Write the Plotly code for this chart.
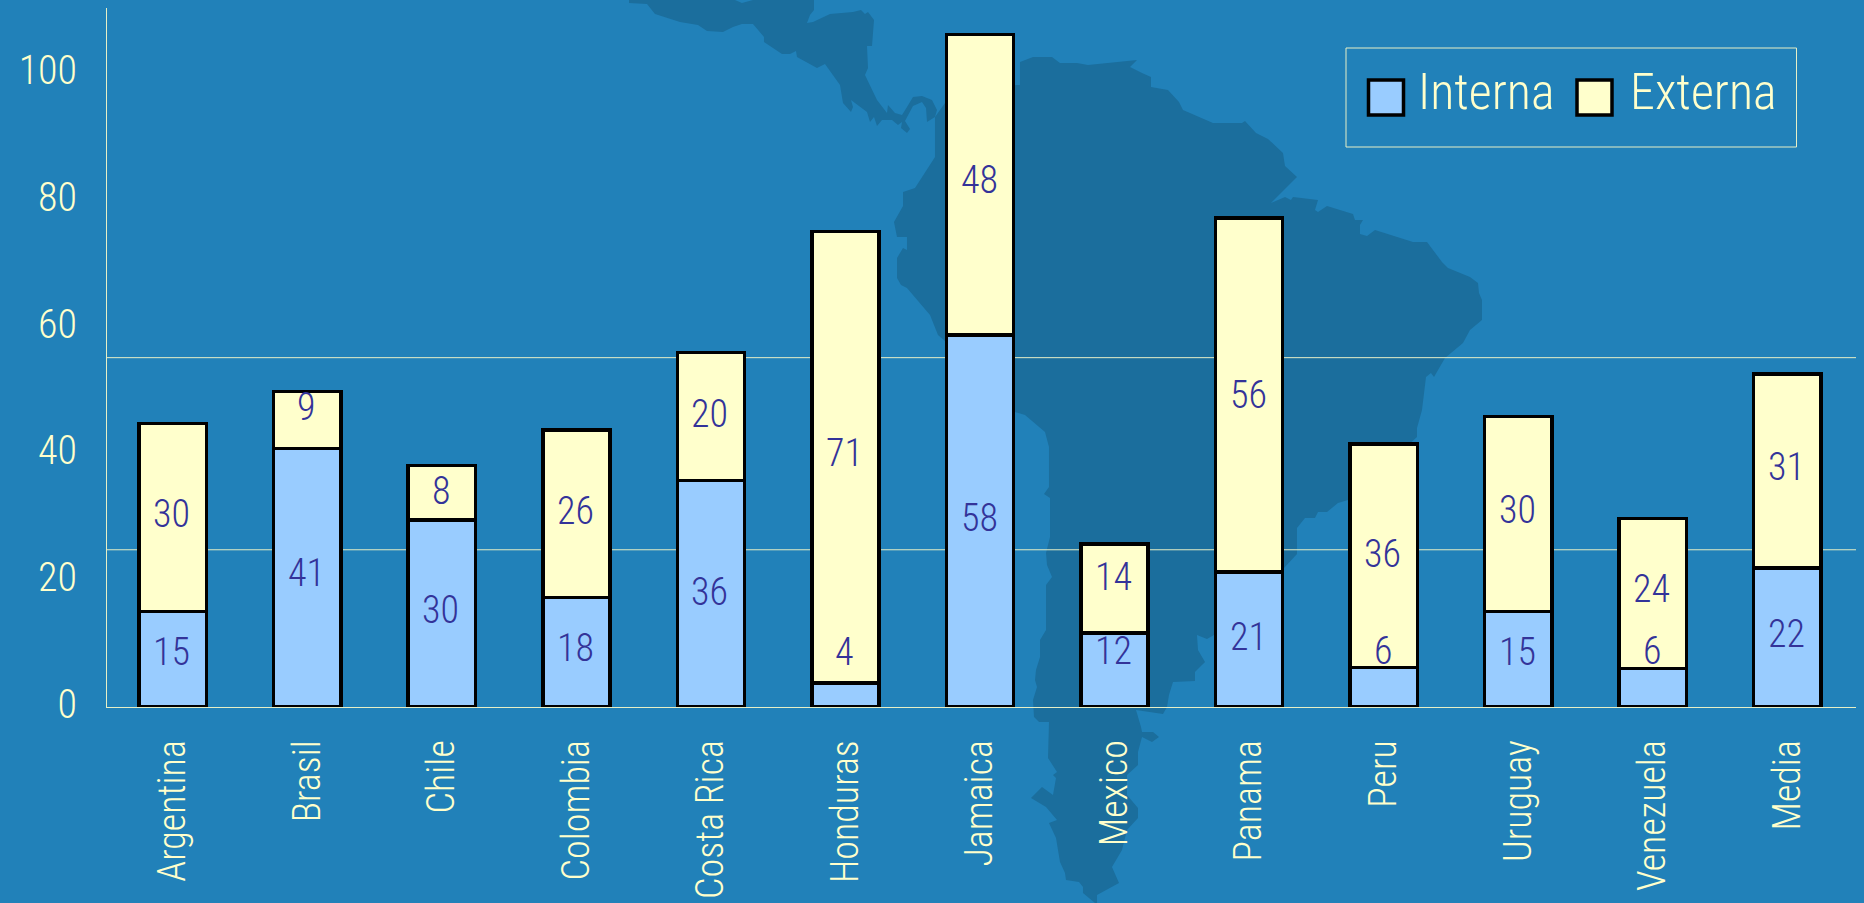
import plotly.graph_objects as go

W, H = 1864, 903
PLOT_L, PLOT_R, PLOT_T, PLOT_B = 107, 1856, 8, 707

categories = ["Argentina", "Brasil", "Chile", "Colombia", "Costa Rica", "Honduras", "Jamaica",
              "Mexico", "Panama", "Peru", "Uruguay", "Venezuela", "Media"]
interna = [15.1, 40.8, 29.5, 17.3, 35.7, 3.8, 58.7, 11.7, 21.3, 6.2, 15.1, 6.1, 21.9]
externa = [29.6, 9.0, 8.6, 26.4, 20.2, 71.2, 47.4, 14.0, 55.8, 35.3, 30.7, 23.6, 30.6]
interna_labels = [15, 41, 30, 18, 36, 4, 58, 12, 21, 6, 15, 6, 22]
externa_labels = [30, 9, 8, 26, 20, 71, 48, 14, 56, 36, 30, 24, 31]
interna_label_at = [8.7, 21.1, 15.3, 9.3, 18.1, 8.7, 29.8, 8.9, 11.0, 8.8, 8.7, 8.8, 11.5]
externa_label_at = [30.5, 47.3, 34.0, 30.9, 46.2, 40.0, 83.2, 20.5, 49.2, 24.1, 31.0, 18.6, 37.8]
reference_lines = [55.1, 24.8]
y_ticks = [0, 20, 40, 60, 80, 100]
Y_MAX = (PLOT_B - PLOT_T) / 6.34

BG = "#2181B9"
LAND = "#1B6E9D"
BLUE = "#99CCFF"
CREAM = "#FFFFCC"
INK = "#333399"
RULE = "#E6EFC6"
FONT = "Roboto Condensed, Archivo Narrow, Liberation Sans, sans-serif"

central_america = [
    (629, 0), (629, 3), (647, 4), (655, 14), (680, 22), (698, 25), (707, 31), (723, 32), (733, 27),
    (742, 24), (753, 24), (764, 37), (764, 42), (782, 54), (790, 54), (796, 51), (797, 57), (817, 68),
    (825, 64), (840, 85), (843, 103), (851, 112), (853, 107), (851, 100), (867, 112), (870, 122),
    (874, 117), (877, 126), (882, 120), (892, 120), (898, 125), (902, 122), (901, 128), (907, 133),
    (910, 129), (905, 121), (913, 106), (922, 102), (926, 108), (927, 122), (935, 117), (937, 110),
    (932, 100), (922, 96), (913, 97), (907, 107), (902, 115), (895, 113), (888, 105), (887, 113),
    (877, 100), (865, 75), (868, 68), (867, 46), (872, 46), (874, 20), (868, 12), (865, 14), (861, 10),
    (853, 12), (830, 14), (813, 22), (807, 23), (810, 15), (814, 10), (814, 0), (753, 0), (742, 3), (735, 0),
]
south_america = [
    (945, 103), (1016, 85), (1020, 85), (1020, 62), (1033, 57), (1052, 57), (1060, 63), (1077, 63),
    (1088, 65), (1137, 60), (1130, 67), (1142, 73), (1151, 77), (1151, 87), (1168, 90), (1179, 102),
    (1183, 110), (1213, 123), (1242, 123), (1245, 121), (1256, 133), (1268, 139), (1283, 153),
    (1285, 166), (1297, 177), (1271, 203), (1285, 197), (1291, 200), (1293, 197), (1318, 200),
    (1315, 210), (1318, 212), (1327, 206), (1353, 214), (1355, 220), (1363, 220), (1360, 225),
    (1360, 234), (1367, 236), (1375, 230), (1413, 242), (1427, 242), (1442, 262), (1448, 268),
    (1470, 277), (1478, 283), (1479, 293), (1482, 300), (1482, 320), (1470, 330), (1463, 343),
    (1445, 358), (1434, 377), (1431, 373), (1426, 377), (1422, 410), (1417, 428), (1417, 437),
    (1348, 500), (1338, 503), (1327, 512), (1318, 512), (1315, 518), (1305, 518), (1297, 528),
    (1297, 554), (1284, 568), (1214, 635), (1207, 639), (1197, 635), (1198, 650), (1205, 662),
    (1195, 672), (1195, 681), (1173, 682), (1169, 695), (1167, 707), (1163, 714), (1136, 710),
    (1141, 727), (1142, 732), (1153, 732), (1159, 737), (1152, 742), (1142, 737), (1138, 752),
    (1138, 765), (1127, 775), (1127, 795), (1138, 808), (1138, 818), (1127, 830), (1122, 850),
    (1112, 867), (1119, 883), (1097, 895), (1097, 903), (1095, 903), (1083, 893), (1083, 887),
    (1079, 882), (1066, 880), (1065, 873), (1060, 862), (1056, 838), (1049, 823), (1057, 820),
    (1046, 807), (1031, 798), (1042, 787), (1053, 795), (1056, 778), (1053, 775), (1057, 772),
    (1048, 758), (1049, 722), (1039, 722), (1034, 717), (1033, 700), (1037, 687), (1035, 680),
    (1036, 670), (1040, 657), (1040, 640), (1046, 630), (1046, 585), (1052, 577), (1047, 565),
    (1046, 553), (1050, 537), (1050, 498), (1044, 494), (1049, 487), (1049, 447), (1045, 432),
    (1025, 415), (1015, 412), (945, 341), (938, 335), (930, 315), (907, 288), (901, 285), (897, 278),
    (897, 258), (903, 248), (907, 250), (907, 237), (897, 237), (894, 222), (903, 206), (903, 192),
    (915, 188), (935, 157), (935, 117),
]


def px(x):
    return (x - PLOT_L) / (PLOT_R - PLOT_L)


def py(y):
    return (PLOT_B - y) / (PLOT_B - PLOT_T)


def path(points):
    return "M " + " L ".join(f"{px(x):.5f} {py(y):.5f}" for x, y in points) + " Z"


fig = go.Figure()
fig.add_bar(name="Interna", x=categories, y=interna, marker=dict(color=BLUE, line=dict(color="black", width=3.5)))
fig.add_bar(name="Externa", x=categories, y=externa, marker=dict(color=CREAM, line=dict(color="black", width=3.5)))

shapes = []
for poly in (central_america, south_america):
    shapes.append(dict(type="path", path=path(poly), xref="paper", yref="paper",
                       fillcolor=LAND, line=dict(width=0), layer="below"))
for value in reference_lines:
    shapes.append(dict(type="line", xref="paper", yref="y", x0=0, x1=1, y0=value, y1=value,
                       line=dict(color=RULE, width=1), layer="below"))

# legend box and swatches
shapes.append(dict(type="rect", xref="paper", yref="paper", x0=px(1346), x1=px(1796.5), y0=py(147), y1=py(48),
                   line=dict(color=RULE, width=1), fillcolor="rgba(0,0,0,0)"))
for x0, color in ((1368.5, BLUE), (1577, CREAM)):
    shapes.append(dict(type="rect", xref="paper", yref="paper", x0=px(x0), x1=px(x0 + 35), y0=py(115), y1=py(80),
                       line=dict(color="black", width=3.5), fillcolor=color))

annotations = []
for cat, text, at in zip(categories, interna_labels, interna_label_at):
    annotations.append(dict(x=cat, y=at, text=str(text), showarrow=False, xshift=-1,
                            font=dict(family=FONT, size=38, color=INK, weight=350)))
for cat, text, at in zip(categories, externa_labels, externa_label_at):
    annotations.append(dict(x=cat, y=at, text=str(text), showarrow=False, xshift=-1,
                            font=dict(family=FONT, size=38, color=INK, weight=350)))
for x0, text in ((1416, "Interna"), (1628, "Externa")):
    annotations.append(dict(xref="paper", yref="paper", x=px(x0), y=py(92), text=text, showarrow=False,
                            xanchor="left", yanchor="middle",
                            font=dict(family=FONT, size=50, color=CREAM, weight=350)))

fig.update_layout(
    width=W, height=H, autosize=False,
    barmode="stack", bargap=0.5,
    paper_bgcolor=BG, plot_bgcolor="rgba(0,0,0,0)",
    margin=dict(l=PLOT_L, r=W - PLOT_R, t=PLOT_T, b=H - PLOT_B, autoexpand=False),
    showlegend=False,
    shapes=shapes, annotations=annotations,
    xaxis=dict(type="category", categoryorder="array", categoryarray=categories, range=[-0.489, 12.511],
               showgrid=False, zeroline=False, showline=True, linecolor=RULE, linewidth=1,
               ticks="", tickangle=-90, ticklabelstandoff=17,
               tickfont=dict(family=FONT, size=38, color=CREAM, weight=350)),
    yaxis=dict(range=[0, Y_MAX], tickvals=y_ticks, showgrid=False, zeroline=False,
               showline=True, linecolor=RULE, linewidth=1, ticks="", ticklabelstandoff=21, ticklabelshift=-3,
               tickfont=dict(family=FONT, size=40, color=CREAM, weight=350)),
)

fig.write_html("out.html", config=dict(displayModeBar=False),
               post_script="document.body.style.margin='0';document.body.style.overflow='hidden';")
